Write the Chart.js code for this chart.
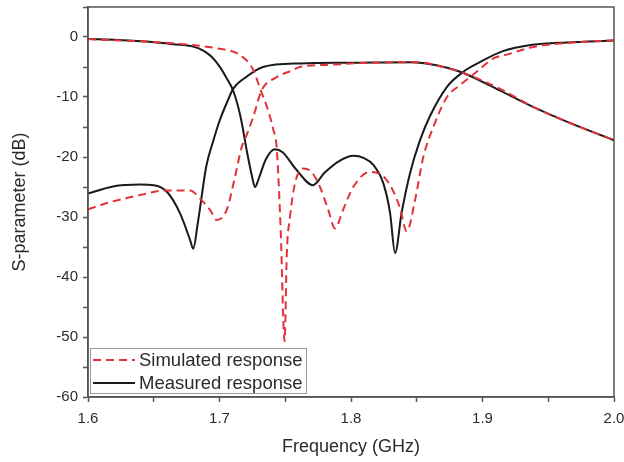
<!DOCTYPE html>
<html>
<head>
<meta charset="utf-8">
<script src="https://cdn.jsdelivr.net/npm/chart.js@4"></script>
<style>
  html, body { margin: 0; padding: 0; background: #fff; }
  #wrap { width: 624px; height: 462px; }
</style>
</head>
<body>
<div id="wrap"><canvas id="sparamChart" width="624" height="462"></canvas></div>
<script>
// Values (frequency in GHz, level in dB)
const simS11Freq = [1.600, 1.647, 1.6725, 1.698, 1.7156, 1.7257, 1.7308, 1.736, 1.741, 1.7435, 1.7465, 1.7495, 1.7512, 1.7536, 1.7574, 1.7637, 1.770, 1.7764, 1.7827, 1.7878, 1.794, 1.8017, 1.8144, 1.827, 1.837, 1.8424, 1.8487, 1.855, 1.8626, 1.873, 1.883, 1.8956, 1.908, 1.919, 1.938, 1.964, 2.000];
const simS11Db   = [-0.35, -0.8, -1.2, -1.9, -3.0, -5.5, -8.6, -11.6, -15.5, -18.5, -32, -50.7, -36, -30, -24.4, -21.9, -22.5, -25, -28.8, -31.9, -28.8, -25, -22.5, -23.8, -28.3, -32.4, -27.2, -20, -15, -10, -8, -5.8, -3.6, -2.9, -1.7, -1.0, -0.55];

const simS21Freq = [1.600, 1.619, 1.6446, 1.657, 1.6776, 1.685, 1.6928, 1.6979, 1.7055, 1.7118, 1.7169, 1.7207, 1.7257, 1.732, 1.7435, 1.756, 1.761, 1.786, 1.812, 1.850, 1.875, 1.883, 1.913, 1.938, 1.964, 2.000];
const simS21Db   = [-28.7, -27.4, -26.1, -25.6, -25.6, -26.9, -28.8, -30.5, -28.8, -23.3, -18.3, -16.3, -13.3, -8.9, -6.7, -5.5, -5.0, -4.6, -4.3, -4.2, -5.3, -5.8, -8.6, -11.6, -14.1, -17.2];

const measS11Freq = [1.600, 1.620, 1.647, 1.665, 1.680, 1.688, 1.694, 1.700, 1.705, 1.7105, 1.716, 1.7207, 1.7245, 1.727, 1.730, 1.735, 1.742, 1.748, 1.758, 1.771, 1.780, 1.7916, 1.8018, 1.810, 1.817, 1.8246, 1.8297, 1.8335, 1.8385, 1.8449, 1.8525, 1.860, 1.873, 1.8854, 1.898, 1.915, 1.938, 1.964, 2.000];
const measS11Db   = [-0.35, -0.45, -0.8, -1.2, -1.6, -2.3, -3.3, -4.9, -6.7, -9.0, -13.3, -18.9, -23, -25, -23.5, -20.5, -18.7, -19.2, -22, -24.7, -22.6, -20.6, -19.8, -20.2, -21.3, -24.4, -29.3, -36, -29.3, -22.7, -17.2, -13.2, -8.3, -5.8, -4.2, -2.4, -1.3, -0.9, -0.6];

const measS21Freq = [1.600, 1.619, 1.640, 1.650, 1.660, 1.670, 1.6776, 1.680, 1.6835, 1.690, 1.695, 1.700, 1.7055, 1.7105, 1.7207, 1.733, 1.761, 1.800, 1.845, 1.865, 1.883, 1.913, 1.938, 1.964, 2.000];
const measS21Db   = [-26.1, -24.9, -24.6, -24.7, -25.8, -29.4, -33.8, -35.3, -31, -21.5, -17.5, -14, -11, -8.6, -6.6, -5.0, -4.4, -4.3, -4.2, -4.7, -5.8, -8.9, -11.6, -14.1, -17.2];

const xTicks = [1.6, 1.7, 1.8, 1.9, 2.0];
const yTicks = [-60, -50, -40, -30, -20, -10, 0];

const simColor = '#e2323a';
const measColor = '#1a1a1a';
const axisColor = '#555555';
const textColor = '#2b2b2b';
const fontFamily = '"Liberation Sans", Arial, sans-serif';

function toPoints(xs, ys) {
    return xs.map((x, i) => ({ x: x, y: ys[i] }));
}

// frame on all four sides, like the original plot box
const framePlugin = {
    id: 'frame',
    afterDraw(chart) {
        const { ctx, chartArea: a } = chart;
        ctx.save();
        ctx.strokeStyle = axisColor;
        ctx.lineWidth = 1.5;
        ctx.strokeRect(a.left, a.top, a.right - a.left, a.bottom - a.top);
        ctx.restore();
    }
};

// boxed legend in the lower-left corner of the plot
const boxLegendPlugin = {
    id: 'boxLegend',
    afterDraw(chart) {
        const { ctx, chartArea: a } = chart;
        const rows = [chart.data.datasets[0], chart.data.datasets[2]];
        const x0 = a.left + 2, y0 = a.bottom - 49, w = 216, h = 45;
        ctx.save();
        ctx.fillStyle = '#ffffff';
        ctx.fillRect(x0, y0, w, h);
        ctx.strokeStyle = '#9a9a9a';
        ctx.lineWidth = 1;
        ctx.strokeRect(x0 + 0.5, y0 + 0.5, w, h);
        ctx.font = '18.5px ' + fontFamily;
        ctx.textBaseline = 'middle';
        rows.forEach((ds, i) => {
            const yy = y0 + 12 + i * 23;
            ctx.strokeStyle = ds.borderColor;
            ctx.lineWidth = 2;
            ctx.setLineDash(ds.borderDash || []);
            ctx.beginPath();
            ctx.moveTo(x0 + 3, yy);
            ctx.lineTo(x0 + 45, yy);
            ctx.stroke();
            ctx.setLineDash([]);
            ctx.fillStyle = textColor;
            ctx.fillText(ds.label, x0 + 49, yy + 1);
        });
        ctx.restore();
    }
};

const ctx = document.getElementById('sparamChart').getContext('2d');
const sparamChart = new Chart(ctx, {
    type: 'line',
    data: {
        datasets: [
            {
                label: 'Simulated response',
                data: toPoints(simS11Freq, simS11Db),
                borderColor: simColor,
                borderDash: [8, 5],
                borderWidth: 2,
                pointRadius: 0,
                fill: false,
                cubicInterpolationMode: 'monotone',
            },
            {
                label: 'Simulated response',
                data: toPoints(simS21Freq, simS21Db),
                borderColor: simColor,
                borderDash: [8, 5],
                borderWidth: 2,
                pointRadius: 0,
                fill: false,
                cubicInterpolationMode: 'monotone',
            },
            {
                label: 'Measured response',
                data: toPoints(measS11Freq, measS11Db),
                borderColor: measColor,
                borderWidth: 2,
                pointRadius: 0,
                fill: false,
                cubicInterpolationMode: 'monotone',
            },
            {
                label: 'Measured response',
                data: toPoints(measS21Freq, measS21Db),
                borderColor: measColor,
                borderWidth: 2,
                pointRadius: 0,
                fill: false,
                cubicInterpolationMode: 'monotone',
            }
        ]
    },
    options: {
        responsive: false,
        animation: false,
        events: [],
        layout: { padding: { top: 7, right: 10, left: 0, bottom: 0 } },
        plugins: {
            legend: { display: false },
            tooltip: { enabled: false }
        },
        scales: {
            x: {
                type: 'linear',
                min: 1.6,
                max: 2.0,
                afterFit: (s) => {
                    s.height = 65;
                    s.paddingLeft = 0;
                    s.paddingRight = 0;
                },
                border: { color: axisColor, width: 1.5 },
                grid: { drawOnChartArea: false, tickLength: 5, tickColor: axisColor, tickWidth: 1.5 },
                ticks: {
                    stepSize: 0.05,
                    autoSkip: false,
                    maxRotation: 0,
                    color: textColor,
                    font: { family: fontFamily, size: 15 },
                    padding: 8,
                    callback: function(value) {
                        const hit = xTicks.find(t => Math.abs(t - value) < 1e-6);
                        return hit !== undefined ? hit.toFixed(1) : '';
                    }
                },
                title: {
                    display: true,
                    text: 'Frequency (GHz)',
                    color: textColor,
                    font: { family: fontFamily, size: 18 },
                    padding: { top: 4, bottom: 4 }
                }
            },
            y: {
                min: -60,
                max: 5,
                afterFit: (s) => {
                    s.width = 88;
                    s.paddingTop = 0;
                    s.paddingBottom = 0;
                },
                border: { color: axisColor, width: 1.5 },
                grid: { drawOnChartArea: false, tickLength: 5, tickColor: axisColor, tickWidth: 1.5 },
                ticks: {
                    stepSize: 5,
                    autoSkip: false,
                    color: textColor,
                    font: { family: fontFamily, size: 15 },
                    padding: 5,
                    callback: function(value) {
                        return yTicks.includes(value) ? String(value) : '';
                    }
                },
                title: {
                    display: true,
                    text: 'S-parameter (dB)',
                    color: textColor,
                    font: { family: fontFamily, size: 18 },
                    padding: { top: 9, bottom: 0 }
                }
            }
        }
    },
    plugins: [framePlugin, boxLegendPlugin]
});
</script>
</body>
</html>
